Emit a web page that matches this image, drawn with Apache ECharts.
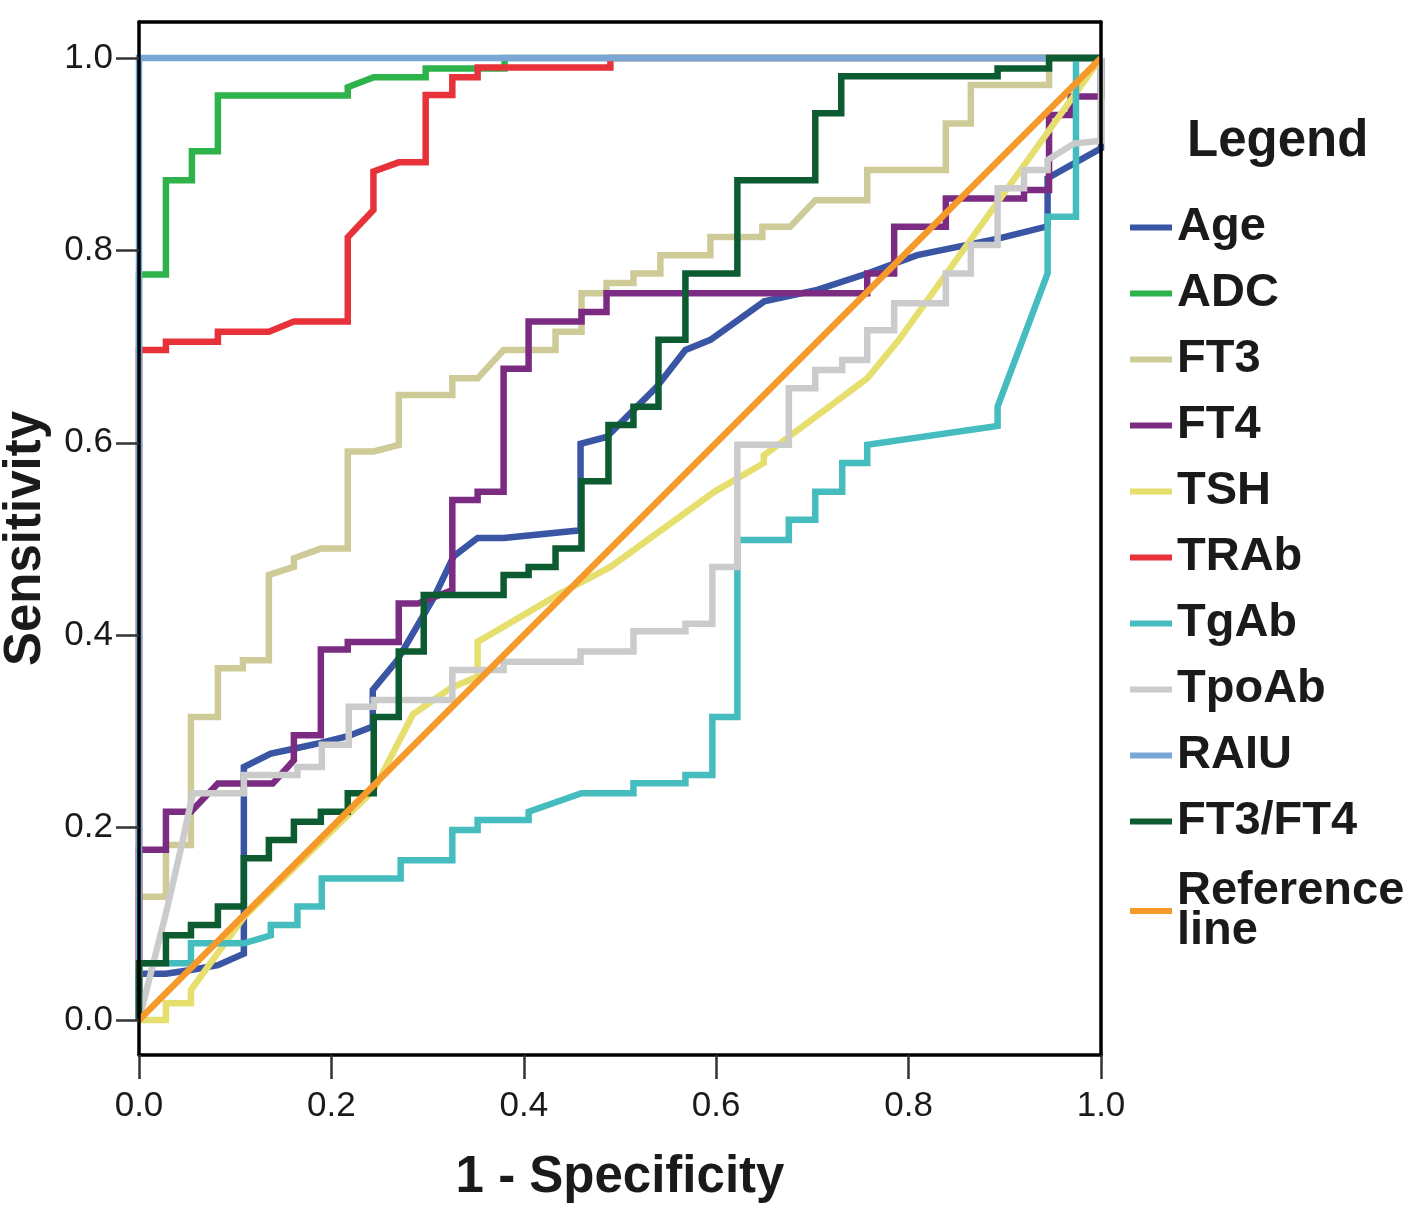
<!DOCTYPE html>
<html>
<head>
<meta charset="utf-8">
<script src="https://cdn.jsdelivr.net/npm/echarts@6/dist/echarts.min.js"></script>
<style>
  html, body { margin: 0; padding: 0; background: #ffffff; }
  #chart { width: 1417px; height: 1217px; }
</style>
</head>
<body>
<div id="chart"></div>
<script>
// ---- data (1 - Specificity, Sensitivity) ----
const seriesNames = ['Age', 'ADC', 'FT3', 'FT4', 'TSH', 'TRAb', 'TgAb', 'TpoAb', 'RAIU', 'FT3/FT4', 'Reference line'];
const seriesColors = ['#3A55A4', '#2EB34B', '#CFCB98', '#7B2C82', '#E6DF6E', '#E7323A', '#45BDBF', '#CBCBCB', '#7AA6D5', '#0D5B30', '#F4992A'];
const tickValues = [0, 0.2, 0.4, 0.6, 0.8, 1.0];

const ageData = [[0,0],[0,0.048],[0.028,0.048],[0.054,0.052],[0.082,0.057],[0.109,0.069],[0.109,0.263],[0.137,0.277],[0.161,0.282],[0.189,0.288],[0.217,0.295],[0.243,0.305],[0.243,0.343],[0.2685,0.374],[0.307,0.44],[0.327,0.482],[0.352,0.501],[0.379,0.501],[0.459,0.509],[0.459,0.599],[0.486,0.606],[0.538,0.658],[0.568,0.6965],[0.594,0.707],[0.65,0.747],[0.705,0.759],[0.757,0.776],[0.809,0.795],[0.894,0.8125],[0.9445,0.825],[0.9445,0.875],[1.0,0.906],[1,1]];
const adcData = [[0,0],[0,0.775],[0.028,0.775],[0.028,0.873],[0.055,0.873],[0.055,0.903],[0.082,0.903],[0.082,0.961],[0.217,0.961],[0.217,0.9695],[0.244,0.98],[0.298,0.98],[0.298,0.989],[0.38,0.989],[0.38,1],[1,1]];
const ft3Data = [[0,0],[0,0.128],[0.028,0.128],[0.028,0.182],[0.054,0.182],[0.054,0.315],[0.082,0.315],[0.082,0.3655],[0.108,0.3655],[0.108,0.374],[0.135,0.374],[0.135,0.4626],[0.161,0.471],[0.161,0.48],[0.189,0.49],[0.217,0.49],[0.217,0.591],[0.244,0.591],[0.27,0.5977],[0.27,0.6497],[0.3257,0.6497],[0.3257,0.667],[0.352,0.667],[0.379,0.6965],[0.433,0.6965],[0.433,0.7155],[0.46,0.7155],[0.46,0.7554],[0.486,0.7554],[0.486,0.766],[0.514,0.766],[0.514,0.776],[0.542,0.776],[0.542,0.795],[0.594,0.795],[0.594,0.814],[0.648,0.814],[0.648,0.8246],[0.677,0.8246],[0.703,0.852],[0.757,0.852],[0.757,0.8836],[0.8387,0.8836],[0.8387,0.932],[0.8647,0.932],[0.8647,0.972],[0.946,0.972],[0.946,1],[1,1]];
const ft4Data = [[0,0],[0,0.177],[0.028,0.177],[0.028,0.2165],[0.054,0.2165],[0.082,0.2457],[0.139,0.2457],[0.161,0.27],[0.161,0.296],[0.189,0.296],[0.189,0.385],[0.217,0.385],[0.217,0.393],[0.27,0.393],[0.27,0.433],[0.29,0.433],[0.3257,0.447],[0.3257,0.5405],[0.352,0.5405],[0.352,0.549],[0.379,0.549],[0.379,0.677],[0.405,0.677],[0.405,0.726],[0.46,0.726],[0.46,0.736],[0.486,0.736],[0.486,0.7554],[0.757,0.7554],[0.757,0.776],[0.785,0.776],[0.785,0.8246],[0.8387,0.8246],[0.8387,0.854],[0.92,0.854],[0.92,0.8628],[0.946,0.8628],[0.946,0.9407],[0.9685,0.9407],[0.9685,0.96],[1,0.96],[1,1]];
const tshData = [[0,0],[0.028,0],[0.028,0.0173],[0.054,0.0173],[0.054,0.031],[0.109,0.107],[0.244,0.239],[0.285,0.318],[0.324,0.345],[0.352,0.357],[0.352,0.393],[0.438,0.4435],[0.49,0.471],[0.598,0.549],[0.6495,0.579],[0.6495,0.587],[0.757,0.667],[0.79,0.707],[1,1]];
const trabData = [[0,0],[0,0.6965],[0.028,0.6965],[0.028,0.705],[0.082,0.705],[0.082,0.7155],[0.135,0.7155],[0.161,0.726],[0.217,0.726],[0.217,0.8136],[0.2437,0.842],[0.2437,0.882],[0.27,0.8915],[0.298,0.8915],[0.298,0.9615],[0.3257,0.9615],[0.3257,0.98],[0.352,0.98],[0.352,0.99],[0.49,0.99],[0.49,1],[1,1]];
const tgabData = [[0,0],[0,0.059],[0.054,0.059],[0.054,0.0797],[0.109,0.0797],[0.137,0.088],[0.137,0.0988],[0.1647,0.0988],[0.1647,0.118],[0.19,0.118],[0.19,0.147],[0.272,0.147],[0.272,0.166],[0.3257,0.166],[0.3257,0.1975],[0.352,0.1975],[0.352,0.208],[0.405,0.208],[0.405,0.2165],[0.46,0.2357],[0.514,0.2357],[0.514,0.246],[0.568,0.246],[0.568,0.2547],[0.596,0.2547],[0.596,0.315],[0.622,0.315],[0.622,0.499],[0.6755,0.499],[0.6755,0.52],[0.703,0.52],[0.703,0.549],[0.731,0.549],[0.731,0.579],[0.757,0.579],[0.757,0.598],[0.8925,0.6175],[0.8925,0.6375],[0.9445,0.776],[0.9445,0.835],[0.974,0.835],[0.974,1],[1,1]];
const tpoabData = [[0,0],[0.028,0.111],[0.044,0.18],[0.056,0.2357],[0.109,0.2357],[0.109,0.2547],[0.1647,0.2547],[0.1647,0.263],[0.19,0.263],[0.19,0.286],[0.218,0.286],[0.218,0.3257],[0.244,0.3257],[0.244,0.3326],[0.3257,0.3326],[0.3257,0.3638],[0.379,0.3638],[0.379,0.3725],[0.459,0.3725],[0.459,0.383],[0.514,0.383],[0.514,0.404],[0.568,0.404],[0.568,0.412],[0.596,0.412],[0.596,0.471],[0.622,0.471],[0.622,0.598],[0.6755,0.598],[0.6755,0.6566],[0.703,0.6566],[0.703,0.6757],[0.731,0.6757],[0.731,0.686],[0.757,0.686],[0.757,0.717],[0.785,0.717],[0.785,0.745],[0.8387,0.745],[0.8387,0.776],[0.8647,0.776],[0.8647,0.8056],[0.8925,0.8056],[0.8925,0.8645],[0.92,0.8645],[0.92,0.8836],[0.9445,0.8836],[0.9445,0.894],[0.972,0.911],[1,0.914],[1,1]];
const raiuData = [[0,0],[0,1],[1,1]];
const ft3ft4Data = [[0,0],[0,0.059],[0.028,0.059],[0.028,0.088],[0.054,0.088],[0.054,0.0988],[0.082,0.0988],[0.082,0.118],[0.109,0.118],[0.109,0.168],[0.135,0.168],[0.135,0.187],[0.161,0.187],[0.161,0.206],[0.189,0.206],[0.189,0.2165],[0.217,0.2165],[0.217,0.2357],[0.244,0.2357],[0.244,0.315],[0.27,0.315],[0.27,0.383],[0.296,0.383],[0.296,0.4418],[0.379,0.4418],[0.379,0.4626],[0.405,0.4626],[0.405,0.471],[0.433,0.471],[0.433,0.49],[0.46,0.49],[0.46,0.56],[0.488,0.56],[0.488,0.6185],[0.514,0.6185],[0.514,0.6375],[0.54,0.6375],[0.54,0.707],[0.568,0.707],[0.568,0.776],[0.622,0.776],[0.622,0.873],[0.703,0.873],[0.703,0.9425],[0.73,0.9425],[0.73,0.981],[0.8925,0.981],[0.8925,0.989],[0.946,0.989],[0.946,1],[1,1]];
const referenceData = [[0,0],[1,1]];

const allData = [ageData, adcData, ft3Data, ft4Data, tshData, trabData, tgabData, tpoabData, raiuData, ft3ft4Data, referenceData];

const FONT = '"Liberation Sans", Arial, Helvetica, sans-serif';

const chart = echarts.init(document.getElementById('chart'), null, { renderer: 'canvas' });

const series = seriesNames.map((name, i) => ({
  name: name,
  type: 'line',
  data: allData[i],
  showSymbol: false,
  symbol: 'none',
  smooth: false,
  animation: false,
  color: seriesColors[i],
  itemStyle: { color: seriesColors[i] },
  lineStyle: { color: seriesColors[i], width: 6.5, join: 'miter', cap: 'butt' },
  xAxisIndex: 0,
  yAxisIndex: 0,
  z: 2
}));

const legendData = seriesNames.map((n) =>
  n === 'Reference line' ? { name: n, textStyle: { padding: [14, 0, 0, 0] } } : { name: n }
);

const option = {
  backgroundColor: '#ffffff',
  animation: false,
  textStyle: { fontFamily: FONT },
  title: {
    text: 'Legend',
    left: 1187,
    top: 116,
    padding: 0,
    textStyle: { fontFamily: FONT, fontSize: 51, fontWeight: 'bold', color: '#1a1a1a' }
  },
  legend: {
    orient: 'vertical',
    left: 1130,
    top: 204,
    padding: 0,
    itemWidth: 42,
    itemHeight: 6,
    itemGap: 19,
    icon: 'rect',
    selectedMode: false,
    data: legendData,
    formatter: (n) => n === 'Reference line' ? 'Reference\nline' : n,
    textStyle: { fontFamily: FONT, fontSize: 47, fontWeight: 'bold', color: '#1a1a1a', lineHeight: 40 }
  },
  grid: { left: 139, right: 316, top: 22, bottom: 162, show: false, outerBoundsMode: 'none', containLabel: false },
  xAxis: [
    {
      type: 'value',
      min: 0, max: 1, interval: 0.2,
      position: 'bottom',
      z: 5,
      name: '1 - Specificity',
      nameLocation: 'middle',
      nameGap: 97,
      nameTextStyle: { fontFamily: FONT, fontSize: 51, fontWeight: 'bold', color: '#1a1a1a' },
      axisLine: { show: true, onZero: false, lineStyle: { color: '#000', width: 3.5 } },
      axisTick: { show: true, inside: false, length: 24, lineStyle: { color: '#333', width: 2.5 } },
      axisLabel: { margin: 34, fontSize: 35, color: '#1a1a1a', fontFamily: FONT, formatter: (v) => v.toFixed(1) },
      splitLine: { show: false }
    },
    {
      type: 'value',
      min: 0, max: 1,
      position: 'top',
      z: 5,
      axisLine: { show: true, onZero: false, lineStyle: { color: '#000', width: 3.5 } },
      axisTick: { show: false },
      axisLabel: { show: false },
      splitLine: { show: false }
    }
  ],
  yAxis: [
    {
      type: 'value',
      min: -0.0364, max: 1.0374,
      position: 'left',
      z: 5,
      name: 'Sensitivity',
      nameLocation: 'middle',
      nameGap: 88,
      nameTextStyle: { fontFamily: FONT, fontSize: 51, fontWeight: 'bold', color: '#1a1a1a' },
      axisLine: { show: true, onZero: false, lineStyle: { color: '#000', width: 3.5 } },
      axisTick: { show: true, inside: false, length: 23, customValues: tickValues, lineStyle: { color: '#333', width: 2.5 } },
      axisLabel: { margin: 26, fontSize: 35, color: '#1a1a1a', fontFamily: FONT, customValues: tickValues, formatter: (v) => v.toFixed(1) },
      splitLine: { show: false }
    },
    {
      type: 'value',
      min: -0.0364, max: 1.0374,
      position: 'right',
      z: 5,
      axisLine: { show: true, onZero: false, lineStyle: { color: '#000', width: 3.5 } },
      axisTick: { show: false },
      axisLabel: { show: false },
      splitLine: { show: false }
    }
  ],
  series: series
};

chart.setOption(option);
</script>
</body>
</html>
